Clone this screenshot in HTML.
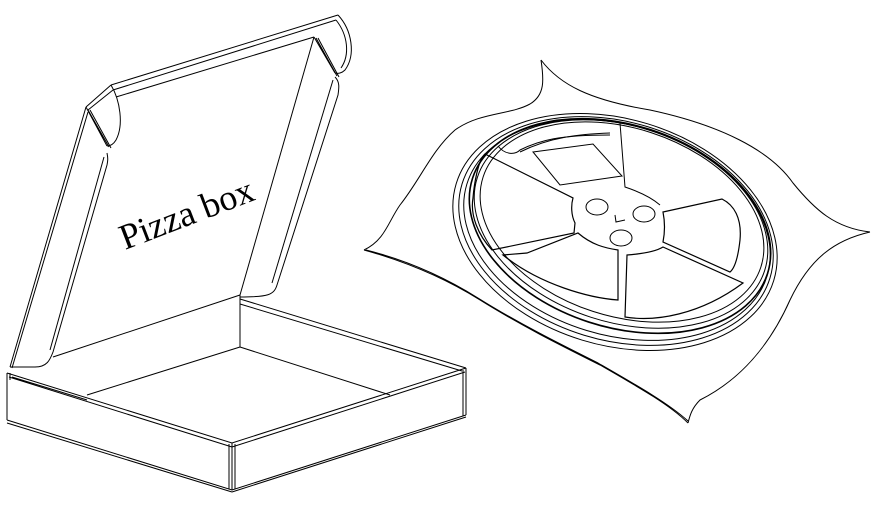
<!DOCTYPE html>
<html><head><meta charset="utf-8"><style>
html,body{margin:0;padding:0;background:#fff;}
svg{display:block}
</style></head><body>
<svg width="876" height="505" viewBox="0 0 876 505" xmlns="http://www.w3.org/2000/svg" fill="none" stroke="#000" stroke-width="1">
<!-- LID -->
<path d="M111,85 L338,15 M113,90 L336,20 M116,97 L314,37"/>
<path d="M86,107 L111,85 M88,110 L113,90"/>
<path d="M338,15 C352,30 356,55 345,70 C342,73 338,74 335,73"/>
<path d="M336,20 C348,35 350,55 341,68"/>
<path d="M314,37 L335,73 M316,38 L337,76 M318,38 L339,77"/>
<path d="M335,77 C340,82 339,88 338,95 L277,285 C274,295 268,297 240,297"/>
<path d="M333,80 L272,283"/>
<path d="M314,37 L240,295"/>
<path d="M111,85 C120,100 124,125 116,140 C113,145 110,146 107,146"/>
<path d="M86,107 L107,146 M88,110 L109,147 M90,110 L111,148"/>
<path d="M107,153 C108,158 108,160 107,165 L53,352 C50,360 47,367 35,367 L10,367"/>
<path d="M104,157 L50,350"/>
<path d="M86,107 L10,367 M88,112 L12,368"/>
<text x="0" y="0" transform="translate(125,250) rotate(-21)" style="font-family:'Liberation Serif',serif;font-size:36px" fill="#000" stroke="none">Pizza box</text>
<!-- BOX -->
<path d="M240,295 L53,357"/>
<path d="M240,295 L240,347 M240,347 L87,395 M240,347 L390,395"/>
<path d="M240,299 L466,368 M240,304 L462,371"/>
<path d="M7,373 L232,443 L466,368 M9,377 L232,447 M12,377 L87,400"/>
<path d="M232,447 L465,372"/>
<path d="M7,373 L7,420 M232,443 L232,490 M229,444 L229,489 M235,444 L235,489 M466,368 L466,415 M463,370 L463,416"/>
<path d="M7,420 L232,490 L466,415 M7,423 L232,492 M232,492 L466,417"/>
<path d="M10,373 L10,380"/>
<!-- BAG -->
<path d="M541,60 C544,80 545,95 530,104 C510,115 480,112 455,130 C432,150 420,180 400,205 C388,222 385,240 364,250"/>
<path d="M541,60 C560,85 590,100 650,110 C720,125 770,150 793,183 C815,210 835,228 870,232"/>
<path d="M870,232 C835,240 810,258 790,300 C770,345 740,380 700,400 C692,408 690,415 688,423"/>
<path d="M688,423 C670,405 640,388 600,365 C560,345 520,325 480,300 C440,275 400,260 364,250 M688,421 C668,403 638,386 598,363 C558,343 518,323 478,298 C438,273 398,258 366,250"/>
<!-- REEL -->
<ellipse cx="615" cy="232" rx="166" ry="113" transform="rotate(17 615 232)"/>
<ellipse cx="616" cy="231" rx="161" ry="109" transform="rotate(17 616 231)"/>
<ellipse cx="617" cy="230" rx="157" ry="105" transform="rotate(17 617 230)"/>
<ellipse cx="620" cy="226" rx="155" ry="101" transform="rotate(18 620 226)" stroke-width="1.6"/>
<ellipse cx="621" cy="224" rx="151" ry="98" transform="rotate(18 621 224)"/>
<ellipse cx="622" cy="222" rx="146" ry="94" transform="rotate(18 622 222)"/>
<!-- label rect -->
<path d="M533,152 L593,144 L622,176 L560,185 Z"/>
<path d="M498,146 C505,155 515,155 520,150 C540,140 560,135 610,135"/>
<path d="M520,152 C550,137 580,134 610,133"/>
<!-- windows -->
<path d="M485,154 L573,198 C571,205 571,215 575,223 L574,233 L492,250 C478,235 470,215 473,198 C474,185 478,160 485,154 Z" stroke-width="1.2"/>
<path d="M620,123 L625,187 C640,192 652,198 660,205"/>
<path d="M663,212 L722,199 C734,205 742,218 740,240 C738,258 735,268 730,272 L663,242 C665,232 665,222 663,212 Z" stroke-width="1.2"/>
<path d="M627,255 L625,317 C655,322 700,315 743,283 L663,247 C655,252 640,254 627,255 Z" stroke-width="1.2"/>
<path d="M618,250 L618,300 C590,298 540,285 503,255 L527,253 L578,233 C592,245 605,248 618,250 Z" stroke-width="1.2"/>
<!-- holes -->
<ellipse cx="597" cy="207" rx="11" ry="8"/>
<ellipse cx="644" cy="214" rx="11" ry="8"/>
<ellipse cx="621" cy="238" rx="11" ry="8"/>
<path d="M615,215 L616,222 L625,220"/>
</svg>
</body></html>
